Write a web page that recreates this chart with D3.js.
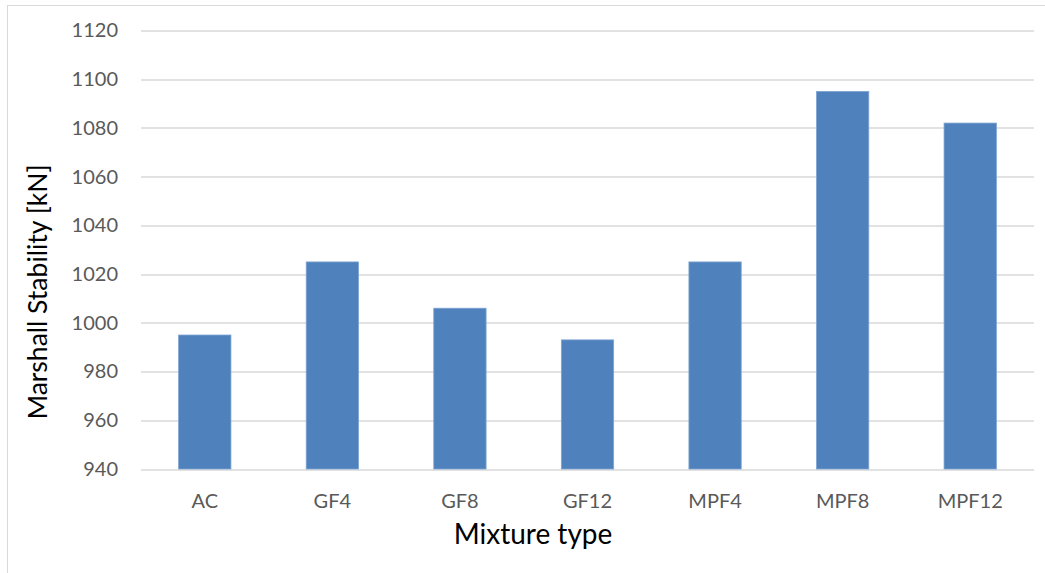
<!DOCTYPE html>
<html>
<head>
<meta charset="utf-8">
<script src="https://cdn.jsdelivr.net/npm/d3@7"></script>
<style>
  html, body { margin: 0; padding: 0; background: #fff; }
  svg { display: block; }
</style>
</head>
<body>
<svg id="chart" width="1045" height="573"></svg>
<script>
// Mixture types and their Marshall stability
const categories = ["AC", "GF4", "GF8", "GF12", "MPF4", "MPF8", "MPF12"];
const stability = [995, 1025, 1006, 993, 1025, 1095, 1082];
const yTicks = [940, 960, 980, 1000, 1020, 1040, 1060, 1080, 1100, 1120];

const svg = d3.select("#chart");
const W = 1045, H = 573;
const margin = { left: 141, right: 11, top: 30.5, bottom: 104 };
const plotW = W - margin.left - margin.right;
const plotH = H - margin.top - margin.bottom;
const FONT = "Lato, 'Open Sans', sans-serif";

// outer chart frame (left and top edges)
svg.append("rect")
  .attr("x", 7.5).attr("y", 5.5)
  .attr("width", W + 10).attr("height", H + 10)
  .attr("fill", "#fff").attr("stroke", "#d9d9d9").attr("stroke-width", 1);

const x = d3.scaleBand().domain(categories).range([0, plotW]).paddingInner(0.59).paddingOuter(0.295);
const y = d3.scaleLinear().domain([940, 1120]).range([plotH, 0]);

const g = svg.append("g").attr("transform", `translate(${margin.left},${margin.top})`);

// horizontal gridlines
g.append("g")
  .selectAll("line")
  .data(yTicks)
  .join("line")
  .attr("x1", 0).attr("x2", plotW)
  .attr("y1", d => Math.round(y(d)) + 0.5).attr("y2", d => Math.round(y(d)) + 0.5)
  .attr("stroke", "#d9d9d9").attr("stroke-width", 1.3);

// y tick labels
const yAxis = d3.axisLeft(y).tickValues(yTicks).tickFormat(d3.format("d")).tickSize(0).tickPadding(23);
g.append("g").call(yAxis)
  .call(a => a.select(".domain").remove())
  .selectAll("text")
  .attr("font-family", FONT)
  .attr("font-size", 20)
  .attr("fill", "#595959");

// bars
g.append("g")
  .selectAll("rect")
  .data(categories)
  .join("rect")
  .attr("x", d => x(d))
  .attr("width", x.bandwidth())
  .attr("y", (d, i) => y(stability[i]))
  .attr("height", (d, i) => y(940) - y(stability[i]))
  .attr("fill", "#4f81bd")
  .attr("stroke", "#7da3d2")
  .attr("stroke-width", 0.8);

// x tick labels
const xAxis = d3.axisBottom(x).tickSize(0).tickPadding(25);
g.append("g").attr("transform", `translate(0,${plotH})`).call(xAxis)
  .call(a => a.select(".domain").remove())
  .selectAll("text")
  .attr("font-family", FONT)
  .attr("font-size", 20)
  .attr("fill", "#595959");

// axis titles
svg.append("text")
  .attr("x", 533)
  .attr("y", 544)
  .attr("text-anchor", "middle")
  .attr("font-family", FONT)
  .attr("font-size", 28)
  .attr("fill", "#000")
  .text("Mixture type");

svg.append("text")
  .attr("transform", `translate(47,292) rotate(-90)`)
  .attr("text-anchor", "middle")
  .attr("font-family", FONT)
  .attr("font-size", 26.5)
  .attr("fill", "#000")
  .text("Marshall Stability [kN]");
</script>
</body>
</html>
